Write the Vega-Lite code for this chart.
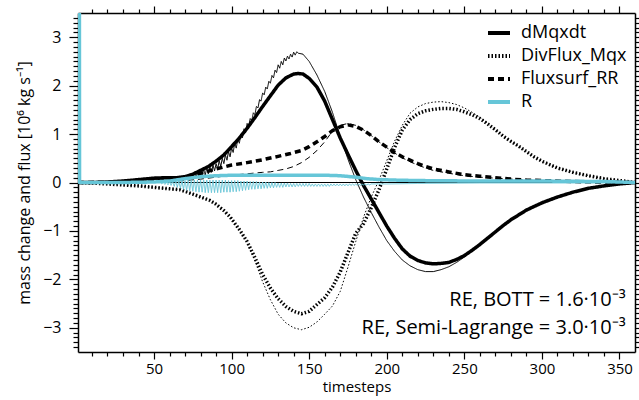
{
"$schema": "https://vega.github.io/schema/vega-lite/v6.json",
"width": 557, "height": 339,
"autosize": {"type": "none"},
"padding": {"left": 78, "top": 13, "right": 4, "bottom": 48},
"config": {
  "font": "Open Sans",
  "view": {"stroke": null},
  "axis": {"grid": false, "domainColor": "black", "domainWidth": 1.5, "tickColor": "black", "tickWidth": 1.2, "labelColor": "black", "labelFont": "Open Sans", "labelFontSize": 16, "titleFont": "Open Sans", "titleFontSize": 16, "titleFontWeight": "normal", "titleColor": "black", "labelOverlap": false}
},
"resolve": {"axis": {"x": "independent", "y": "independent"}},
"layer": [
{
  "data": {"values": [{"t": 1, "v": 0}, {"t": 360, "v": 0}]},
  "mark": {"type": "line", "color": "black", "strokeWidth": 1},
  "encoding": {
    "x": {"field": "t", "type": "quantitative", "scale": {"domain": [1, 360], "nice": false, "zero": false},
      "axis": {"orient": "top", "labels": false, "title": null, "values": [10,20,30,40,50,60,70,80,90,100,110,120,130,140,150,160,170,180,190,200,210,220,230,240,250,260,270,280,290,300,310,320,330,340,350],
        "tickSize": {"condition": {"test": "datum.value % 50 === 0", "value": 7}, "value": 4}}},
    "y": {"field": "v", "type": "quantitative", "scale": {"domain": [-3.5, 3.5], "nice": false, "zero": false},
      "axis": {"orient": "right", "labels": false, "title": null, "values": [-3.4,-3.3,-3.2,-3.1,-3,-2.9,-2.8,-2.7,-2.6,-2.5,-2.4,-2.3,-2.2,-2.1,-2,-1.9,-1.8,-1.7,-1.6,-1.5,-1.4,-1.3,-1.2,-1.1,-1,-0.9,-0.8,-0.7,-0.6,-0.5,-0.4,-0.3,-0.2,-0.1,0,0.1,0.2,0.3,0.4,0.5,0.6,0.7,0.8,0.9,1,1.1,1.2,1.3,1.4,1.5,1.6,1.7,1.8,1.9,2,2.1,2.2,2.3,2.4,2.5,2.6,2.7,2.8,2.9,3,3.1,3.2,3.3,3.4],
        "tickSize": {"condition": {"test": "abs(datum.value - round(datum.value)) < 0.01", "value": 9}, "value": 5}}}
  }
},
{
  "data": {"values": [
{"t":1,"v":0,"s":"dMqxdt","k":"B"},{"t":10,"v":0,"s":"dMqxdt","k":"B"},{"t":20,"v":0.01,"s":"dMqxdt","k":"B"},{"t":30,"v":0.03,"s":"dMqxdt","k":"B"},{"t":40,"v":0.06,"s":"dMqxdt","k":"B"},{"t":50,"v":0.09,"s":"dMqxdt","k":"B"},{"t":58,"v":0.10,"s":"dMqxdt","k":"B"},{"t":65,"v":0.10,"s":"dMqxdt","k":"B"},{"t":70,"v":0.12,"s":"dMqxdt","k":"B"},{"t":75,"v":0.17,"s":"dMqxdt","k":"B"},{"t":80,"v":0.25,"s":"dMqxdt","k":"B"},{"t":85,"v":0.33,"s":"dMqxdt","k":"B"},{"t":90,"v":0.44,"s":"dMqxdt","k":"B"},{"t":95,"v":0.57,"s":"dMqxdt","k":"B"},{"t":100,"v":0.74,"s":"dMqxdt","k":"B"},{"t":105,"v":0.92,"s":"dMqxdt","k":"B"},{"t":110,"v":1.12,"s":"dMqxdt","k":"B"},{"t":115,"v":1.34,"s":"dMqxdt","k":"B"},{"t":120,"v":1.57,"s":"dMqxdt","k":"B"},{"t":125,"v":1.79,"s":"dMqxdt","k":"B"},{"t":130,"v":2.01,"s":"dMqxdt","k":"B"},{"t":135,"v":2.16,"s":"dMqxdt","k":"B"},{"t":140,"v":2.24,"s":"dMqxdt","k":"B"},{"t":143,"v":2.25,"s":"dMqxdt","k":"B"},{"t":146,"v":2.24,"s":"dMqxdt","k":"B"},{"t":150,"v":2.15,"s":"dMqxdt","k":"B"},{"t":155,"v":1.97,"s":"dMqxdt","k":"B"},{"t":160,"v":1.68,"s":"dMqxdt","k":"B"},{"t":165,"v":1.30,"s":"dMqxdt","k":"B"},{"t":170,"v":0.92,"s":"dMqxdt","k":"B"},{"t":175,"v":0.58,"s":"dMqxdt","k":"B"},{"t":180,"v":0.25,"s":"dMqxdt","k":"B"},{"t":185,"v":-0.06,"s":"dMqxdt","k":"B"},{"t":190,"v":-0.34,"s":"dMqxdt","k":"B"},{"t":195,"v":-0.62,"s":"dMqxdt","k":"B"},{"t":200,"v":-0.90,"s":"dMqxdt","k":"B"},{"t":205,"v":-1.15,"s":"dMqxdt","k":"B"},{"t":210,"v":-1.37,"s":"dMqxdt","k":"B"},{"t":215,"v":-1.52,"s":"dMqxdt","k":"B"},{"t":220,"v":-1.61,"s":"dMqxdt","k":"B"},{"t":225,"v":-1.66,"s":"dMqxdt","k":"B"},{"t":230,"v":-1.68,"s":"dMqxdt","k":"B"},{"t":235,"v":-1.67,"s":"dMqxdt","k":"B"},{"t":240,"v":-1.65,"s":"dMqxdt","k":"B"},{"t":245,"v":-1.59,"s":"dMqxdt","k":"B"},{"t":250,"v":-1.51,"s":"dMqxdt","k":"B"},{"t":255,"v":-1.40,"s":"dMqxdt","k":"B"},{"t":260,"v":-1.28,"s":"dMqxdt","k":"B"},{"t":265,"v":-1.15,"s":"dMqxdt","k":"B"},{"t":270,"v":-1.02,"s":"dMqxdt","k":"B"},{"t":275,"v":-0.89,"s":"dMqxdt","k":"B"},{"t":280,"v":-0.77,"s":"dMqxdt","k":"B"},{"t":290,"v":-0.57,"s":"dMqxdt","k":"B"},{"t":300,"v":-0.42,"s":"dMqxdt","k":"B"},{"t":310,"v":-0.30,"s":"dMqxdt","k":"B"},{"t":320,"v":-0.20,"s":"dMqxdt","k":"B"},{"t":330,"v":-0.12,"s":"dMqxdt","k":"B"},{"t":340,"v":-0.07,"s":"dMqxdt","k":"B"},{"t":350,"v":-0.03,"s":"dMqxdt","k":"B"},{"t":360,"v":0,"s":"dMqxdt","k":"B"},

{"t":1,"v":0,"s":"dMqxdt","k":"S"},{"t":20,"v":0.01,"s":"dMqxdt","k":"S"},{"t":40,"v":0.05,"s":"dMqxdt","k":"S"},{"t":55,"v":0.07,"s":"dMqxdt","k":"S"},{"t":65,"v":0.08,"s":"dMqxdt","k":"S"},
{"t":66,"v":0.12,"s":"dMqxdt","k":"S"},{"t":67,"v":0.05,"s":"dMqxdt","k":"S"},{"t":68,"v":0.13,"s":"dMqxdt","k":"S"},{"t":69,"v":0.06,"s":"dMqxdt","k":"S"},{"t":70,"v":0.14,"s":"dMqxdt","k":"S"},{"t":71,"v":0.07,"s":"dMqxdt","k":"S"},{"t":72,"v":0.16,"s":"dMqxdt","k":"S"},{"t":73,"v":0.08,"s":"dMqxdt","k":"S"},{"t":74,"v":0.17,"s":"dMqxdt","k":"S"},{"t":75,"v":0.10,"s":"dMqxdt","k":"S"},
{"t":76,"v":0.22,"s":"dMqxdt","k":"S"},{"t":77,"v":0.09,"s":"dMqxdt","k":"S"},{"t":78,"v":0.23,"s":"dMqxdt","k":"S"},{"t":79,"v":0.10,"s":"dMqxdt","k":"S"},{"t":80,"v":0.25,"s":"dMqxdt","k":"S"},{"t":81,"v":0.12,"s":"dMqxdt","k":"S"},{"t":82,"v":0.28,"s":"dMqxdt","k":"S"},{"t":83,"v":0.15,"s":"dMqxdt","k":"S"},{"t":84,"v":0.31,"s":"dMqxdt","k":"S"},{"t":85,"v":0.18,"s":"dMqxdt","k":"S"},
{"t":86,"v":0.33,"s":"dMqxdt","k":"S"},{"t":87,"v":0.21,"s":"dMqxdt","k":"S"},{"t":88,"v":0.36,"s":"dMqxdt","k":"S"},{"t":89,"v":0.24,"s":"dMqxdt","k":"S"},{"t":90,"v":0.39,"s":"dMqxdt","k":"S"},{"t":91,"v":0.28,"s":"dMqxdt","k":"S"},{"t":92,"v":0.45,"s":"dMqxdt","k":"S"},{"t":93,"v":0.33,"s":"dMqxdt","k":"S"},{"t":94,"v":0.50,"s":"dMqxdt","k":"S"},{"t":95,"v":0.39,"s":"dMqxdt","k":"S"},
{"t":96,"v":0.57,"s":"dMqxdt","k":"S"},{"t":97,"v":0.46,"s":"dMqxdt","k":"S"},{"t":98,"v":0.64,"s":"dMqxdt","k":"S"},{"t":99,"v":0.53,"s":"dMqxdt","k":"S"},{"t":100,"v":0.71,"s":"dMqxdt","k":"S"},{"t":101,"v":0.62,"s":"dMqxdt","k":"S"},{"t":102,"v":0.81,"s":"dMqxdt","k":"S"},{"t":103,"v":0.71,"s":"dMqxdt","k":"S"},{"t":104,"v":0.90,"s":"dMqxdt","k":"S"},{"t":105,"v":0.81,"s":"dMqxdt","k":"S"},
{"t":106,"v":1.00,"s":"dMqxdt","k":"S"},{"t":107,"v":0.92,"s":"dMqxdt","k":"S"},{"t":108,"v":1.11,"s":"dMqxdt","k":"S"},{"t":109,"v":1.03,"s":"dMqxdt","k":"S"},{"t":110,"v":1.22,"s":"dMqxdt","k":"S"},{"t":111,"v":1.16,"s":"dMqxdt","k":"S"},{"t":112,"v":1.32,"s":"dMqxdt","k":"S"},{"t":113,"v":1.28,"s":"dMqxdt","k":"S"},{"t":114,"v":1.44,"s":"dMqxdt","k":"S"},{"t":115,"v":1.40,"s":"dMqxdt","k":"S"},
{"t":116,"v":1.57,"s":"dMqxdt","k":"S"},{"t":117,"v":1.54,"s":"dMqxdt","k":"S"},{"t":118,"v":1.71,"s":"dMqxdt","k":"S"},{"t":119,"v":1.68,"s":"dMqxdt","k":"S"},{"t":120,"v":1.85,"s":"dMqxdt","k":"S"},{"t":121,"v":1.81,"s":"dMqxdt","k":"S"},{"t":122,"v":1.97,"s":"dMqxdt","k":"S"},{"t":123,"v":1.93,"s":"dMqxdt","k":"S"},{"t":124,"v":2.09,"s":"dMqxdt","k":"S"},{"t":125,"v":2.05,"s":"dMqxdt","k":"S"},
{"t":126,"v":2.21,"s":"dMqxdt","k":"S"},{"t":127,"v":2.16,"s":"dMqxdt","k":"S"},{"t":128,"v":2.32,"s":"dMqxdt","k":"S"},{"t":129,"v":2.27,"s":"dMqxdt","k":"S"},{"t":130,"v":2.43,"s":"dMqxdt","k":"S"},{"t":131,"v":2.36,"s":"dMqxdt","k":"S"},{"t":132,"v":2.50,"s":"dMqxdt","k":"S"},{"t":133,"v":2.43,"s":"dMqxdt","k":"S"},{"t":134,"v":2.57,"s":"dMqxdt","k":"S"},{"t":135,"v":2.51,"s":"dMqxdt","k":"S"},
{"t":136,"v":2.61,"s":"dMqxdt","k":"S"},{"t":137,"v":2.55,"s":"dMqxdt","k":"S"},{"t":138,"v":2.65,"s":"dMqxdt","k":"S"},{"t":139,"v":2.59,"s":"dMqxdt","k":"S"},{"t":140,"v":2.69,"s":"dMqxdt","k":"S"},{"t":141,"v":2.63,"s":"dMqxdt","k":"S"},{"t":142,"v":2.70,"s":"dMqxdt","k":"S"},
{"t":143,"v":2.67,"s":"dMqxdt","k":"S"},{"t":146,"v":2.65,"s":"dMqxdt","k":"S"},{"t":150,"v":2.50,"s":"dMqxdt","k":"S"},{"t":155,"v":2.22,"s":"dMqxdt","k":"S"},{"t":160,"v":1.88,"s":"dMqxdt","k":"S"},{"t":165,"v":1.45,"s":"dMqxdt","k":"S"},{"t":170,"v":0.95,"s":"dMqxdt","k":"S"},{"t":175,"v":0.48,"s":"dMqxdt","k":"S"},{"t":180,"v":0.06,"s":"dMqxdt","k":"S"},{"t":185,"v":-0.30,"s":"dMqxdt","k":"S"},{"t":190,"v":-0.62,"s":"dMqxdt","k":"S"},{"t":195,"v":-0.92,"s":"dMqxdt","k":"S"},{"t":200,"v":-1.20,"s":"dMqxdt","k":"S"},{"t":205,"v":-1.42,"s":"dMqxdt","k":"S"},{"t":210,"v":-1.60,"s":"dMqxdt","k":"S"},{"t":215,"v":-1.72,"s":"dMqxdt","k":"S"},{"t":220,"v":-1.80,"s":"dMqxdt","k":"S"},{"t":225,"v":-1.84,"s":"dMqxdt","k":"S"},{"t":230,"v":-1.84,"s":"dMqxdt","k":"S"},{"t":235,"v":-1.80,"s":"dMqxdt","k":"S"},{"t":240,"v":-1.74,"s":"dMqxdt","k":"S"},{"t":245,"v":-1.65,"s":"dMqxdt","k":"S"},{"t":250,"v":-1.54,"s":"dMqxdt","k":"S"},{"t":255,"v":-1.41,"s":"dMqxdt","k":"S"},{"t":260,"v":-1.29,"s":"dMqxdt","k":"S"},{"t":265,"v":-1.15,"s":"dMqxdt","k":"S"},{"t":270,"v":-1.02,"s":"dMqxdt","k":"S"},{"t":275,"v":-0.89,"s":"dMqxdt","k":"S"},{"t":280,"v":-0.77,"s":"dMqxdt","k":"S"},{"t":290,"v":-0.57,"s":"dMqxdt","k":"S"},{"t":300,"v":-0.42,"s":"dMqxdt","k":"S"},{"t":310,"v":-0.30,"s":"dMqxdt","k":"S"},{"t":320,"v":-0.20,"s":"dMqxdt","k":"S"},{"t":330,"v":-0.12,"s":"dMqxdt","k":"S"},{"t":340,"v":-0.07,"s":"dMqxdt","k":"S"},{"t":350,"v":-0.03,"s":"dMqxdt","k":"S"},{"t":360,"v":0,"s":"dMqxdt","k":"S"},

{"t":1,"v":0,"s":"DivFlux_Mqx","k":"B"},{"t":10,"v":-0.01,"s":"DivFlux_Mqx","k":"B"},{"t":20,"v":-0.03,"s":"DivFlux_Mqx","k":"B"},{"t":30,"v":-0.05,"s":"DivFlux_Mqx","k":"B"},{"t":40,"v":-0.07,"s":"DivFlux_Mqx","k":"B"},{"t":50,"v":-0.10,"s":"DivFlux_Mqx","k":"B"},{"t":60,"v":-0.13,"s":"DivFlux_Mqx","k":"B"},{"t":67,"v":-0.15,"s":"DivFlux_Mqx","k":"B"},{"t":75,"v":-0.24,"s":"DivFlux_Mqx","k":"B"},{"t":80,"v":-0.30,"s":"DivFlux_Mqx","k":"B"},{"t":86,"v":-0.37,"s":"DivFlux_Mqx","k":"B"},{"t":90,"v":-0.45,"s":"DivFlux_Mqx","k":"B"},{"t":95,"v":-0.58,"s":"DivFlux_Mqx","k":"B"},{"t":99,"v":-0.71,"s":"DivFlux_Mqx","k":"B"},{"t":105,"v":-0.97,"s":"DivFlux_Mqx","k":"B"},{"t":110,"v":-1.22,"s":"DivFlux_Mqx","k":"B"},{"t":115,"v":-1.55,"s":"DivFlux_Mqx","k":"B"},{"t":120,"v":-1.90,"s":"DivFlux_Mqx","k":"B"},{"t":125,"v":-2.18,"s":"DivFlux_Mqx","k":"B"},{"t":130,"v":-2.40,"s":"DivFlux_Mqx","k":"B"},{"t":135,"v":-2.56,"s":"DivFlux_Mqx","k":"B"},{"t":140,"v":-2.66,"s":"DivFlux_Mqx","k":"B"},{"t":145,"v":-2.71,"s":"DivFlux_Mqx","k":"B"},{"t":150,"v":-2.66,"s":"DivFlux_Mqx","k":"B"},{"t":155,"v":-2.52,"s":"DivFlux_Mqx","k":"B"},{"t":160,"v":-2.38,"s":"DivFlux_Mqx","k":"B"},{"t":165,"v":-2.16,"s":"DivFlux_Mqx","k":"B"},{"t":170,"v":-1.85,"s":"DivFlux_Mqx","k":"B"},{"t":175,"v":-1.45,"s":"DivFlux_Mqx","k":"B"},{"t":180,"v":-1.05,"s":"DivFlux_Mqx","k":"B"},{"t":185,"v":-0.85,"s":"DivFlux_Mqx","k":"B"},{"t":190,"v":-0.52,"s":"DivFlux_Mqx","k":"B"},{"t":195,"v":-0.15,"s":"DivFlux_Mqx","k":"B"},{"t":200,"v":0.28,"s":"DivFlux_Mqx","k":"B"},{"t":205,"v":0.72,"s":"DivFlux_Mqx","k":"B"},{"t":210,"v":1.08,"s":"DivFlux_Mqx","k":"B"},{"t":215,"v":1.30,"s":"DivFlux_Mqx","k":"B"},{"t":220,"v":1.42,"s":"DivFlux_Mqx","k":"B"},{"t":225,"v":1.48,"s":"DivFlux_Mqx","k":"B"},{"t":230,"v":1.51,"s":"DivFlux_Mqx","k":"B"},{"t":235,"v":1.53,"s":"DivFlux_Mqx","k":"B"},{"t":240,"v":1.53,"s":"DivFlux_Mqx","k":"B"},{"t":245,"v":1.51,"s":"DivFlux_Mqx","k":"B"},{"t":250,"v":1.46,"s":"DivFlux_Mqx","k":"B"},{"t":255,"v":1.40,"s":"DivFlux_Mqx","k":"B"},{"t":260,"v":1.32,"s":"DivFlux_Mqx","k":"B"},{"t":265,"v":1.21,"s":"DivFlux_Mqx","k":"B"},{"t":270,"v":1.09,"s":"DivFlux_Mqx","k":"B"},{"t":275,"v":0.96,"s":"DivFlux_Mqx","k":"B"},{"t":280,"v":0.85,"s":"DivFlux_Mqx","k":"B"},{"t":285,"v":0.75,"s":"DivFlux_Mqx","k":"B"},{"t":290,"v":0.64,"s":"DivFlux_Mqx","k":"B"},{"t":295,"v":0.53,"s":"DivFlux_Mqx","k":"B"},{"t":300,"v":0.44,"s":"DivFlux_Mqx","k":"B"},{"t":310,"v":0.30,"s":"DivFlux_Mqx","k":"B"},{"t":320,"v":0.21,"s":"DivFlux_Mqx","k":"B"},{"t":330,"v":0.14,"s":"DivFlux_Mqx","k":"B"},{"t":340,"v":0.08,"s":"DivFlux_Mqx","k":"B"},{"t":350,"v":0.04,"s":"DivFlux_Mqx","k":"B"},{"t":360,"v":0,"s":"DivFlux_Mqx","k":"B"},

{"t":1,"v":0,"s":"DivFlux_Mqx","k":"S"},{"t":10,"v":-0.01,"s":"DivFlux_Mqx","k":"S"},{"t":20,"v":-0.03,"s":"DivFlux_Mqx","k":"S"},{"t":30,"v":-0.05,"s":"DivFlux_Mqx","k":"S"},{"t":40,"v":-0.07,"s":"DivFlux_Mqx","k":"S"},{"t":50,"v":-0.10,"s":"DivFlux_Mqx","k":"S"},{"t":60,"v":-0.13,"s":"DivFlux_Mqx","k":"S"},{"t":67,"v":-0.15,"s":"DivFlux_Mqx","k":"S"},{"t":75,"v":-0.24,"s":"DivFlux_Mqx","k":"S"},{"t":80,"v":-0.30,"s":"DivFlux_Mqx","k":"S"},{"t":86,"v":-0.37,"s":"DivFlux_Mqx","k":"S"},{"t":90,"v":-0.45,"s":"DivFlux_Mqx","k":"S"},{"t":95,"v":-0.58,"s":"DivFlux_Mqx","k":"S"},{"t":99,"v":-0.71,"s":"DivFlux_Mqx","k":"S"},{"t":105,"v":-0.97,"s":"DivFlux_Mqx","k":"S"},{"t":110,"v":-1.24,"s":"DivFlux_Mqx","k":"S"},{"t":115,"v":-1.62,"s":"DivFlux_Mqx","k":"S"},{"t":120,"v":-2.05,"s":"DivFlux_Mqx","k":"S"},{"t":125,"v":-2.42,"s":"DivFlux_Mqx","k":"S"},{"t":130,"v":-2.72,"s":"DivFlux_Mqx","k":"S"},{"t":135,"v":-2.90,"s":"DivFlux_Mqx","k":"S"},{"t":140,"v":-3.00,"s":"DivFlux_Mqx","k":"S"},{"t":145,"v":-3.04,"s":"DivFlux_Mqx","k":"S"},{"t":150,"v":-2.99,"s":"DivFlux_Mqx","k":"S"},{"t":155,"v":-2.88,"s":"DivFlux_Mqx","k":"S"},{"t":160,"v":-2.72,"s":"DivFlux_Mqx","k":"S"},{"t":165,"v":-2.55,"s":"DivFlux_Mqx","k":"S"},{"t":170,"v":-2.25,"s":"DivFlux_Mqx","k":"S"},{"t":175,"v":-1.75,"s":"DivFlux_Mqx","k":"S"},{"t":180,"v":-1.22,"s":"DivFlux_Mqx","k":"S"},{"t":185,"v":-0.72,"s":"DivFlux_Mqx","k":"S"},{"t":190,"v":-0.30,"s":"DivFlux_Mqx","k":"S"},{"t":195,"v":0.05,"s":"DivFlux_Mqx","k":"S"},{"t":200,"v":0.45,"s":"DivFlux_Mqx","k":"S"},{"t":205,"v":0.85,"s":"DivFlux_Mqx","k":"S"},{"t":210,"v":1.18,"s":"DivFlux_Mqx","k":"S"},{"t":215,"v":1.43,"s":"DivFlux_Mqx","k":"S"},{"t":220,"v":1.56,"s":"DivFlux_Mqx","k":"S"},{"t":225,"v":1.63,"s":"DivFlux_Mqx","k":"S"},{"t":230,"v":1.66,"s":"DivFlux_Mqx","k":"S"},{"t":235,"v":1.67,"s":"DivFlux_Mqx","k":"S"},{"t":240,"v":1.65,"s":"DivFlux_Mqx","k":"S"},{"t":245,"v":1.61,"s":"DivFlux_Mqx","k":"S"},{"t":250,"v":1.54,"s":"DivFlux_Mqx","k":"S"},{"t":255,"v":1.45,"s":"DivFlux_Mqx","k":"S"},{"t":260,"v":1.35,"s":"DivFlux_Mqx","k":"S"},{"t":265,"v":1.22,"s":"DivFlux_Mqx","k":"S"},{"t":270,"v":1.09,"s":"DivFlux_Mqx","k":"S"},{"t":275,"v":0.96,"s":"DivFlux_Mqx","k":"S"},{"t":280,"v":0.85,"s":"DivFlux_Mqx","k":"S"},{"t":285,"v":0.75,"s":"DivFlux_Mqx","k":"S"},{"t":290,"v":0.64,"s":"DivFlux_Mqx","k":"S"},{"t":295,"v":0.53,"s":"DivFlux_Mqx","k":"S"},{"t":300,"v":0.44,"s":"DivFlux_Mqx","k":"S"},{"t":310,"v":0.30,"s":"DivFlux_Mqx","k":"S"},{"t":320,"v":0.21,"s":"DivFlux_Mqx","k":"S"},{"t":330,"v":0.14,"s":"DivFlux_Mqx","k":"S"},{"t":340,"v":0.08,"s":"DivFlux_Mqx","k":"S"},{"t":350,"v":0.04,"s":"DivFlux_Mqx","k":"S"},{"t":360,"v":0,"s":"DivFlux_Mqx","k":"S"},

{"t":1,"v":0,"s":"Fluxsurf_RR","k":"B"},{"t":30,"v":0.01,"s":"Fluxsurf_RR","k":"B"},{"t":50,"v":0.03,"s":"Fluxsurf_RR","k":"B"},{"t":60,"v":0.06,"s":"Fluxsurf_RR","k":"B"},{"t":70,"v":0.11,"s":"Fluxsurf_RR","k":"B"},{"t":80,"v":0.19,"s":"Fluxsurf_RR","k":"B"},{"t":90,"v":0.28,"s":"Fluxsurf_RR","k":"B"},{"t":100,"v":0.36,"s":"Fluxsurf_RR","k":"B"},{"t":110,"v":0.41,"s":"Fluxsurf_RR","k":"B"},{"t":120,"v":0.47,"s":"Fluxsurf_RR","k":"B"},{"t":130,"v":0.54,"s":"Fluxsurf_RR","k":"B"},{"t":138,"v":0.60,"s":"Fluxsurf_RR","k":"B"},{"t":145,"v":0.66,"s":"Fluxsurf_RR","k":"B"},{"t":150,"v":0.74,"s":"Fluxsurf_RR","k":"B"},{"t":155,"v":0.84,"s":"Fluxsurf_RR","k":"B"},{"t":160,"v":0.95,"s":"Fluxsurf_RR","k":"B"},{"t":165,"v":1.07,"s":"Fluxsurf_RR","k":"B"},{"t":170,"v":1.15,"s":"Fluxsurf_RR","k":"B"},{"t":175,"v":1.19,"s":"Fluxsurf_RR","k":"B"},{"t":180,"v":1.16,"s":"Fluxsurf_RR","k":"B"},{"t":185,"v":1.08,"s":"Fluxsurf_RR","k":"B"},{"t":190,"v":0.97,"s":"Fluxsurf_RR","k":"B"},{"t":195,"v":0.84,"s":"Fluxsurf_RR","k":"B"},{"t":200,"v":0.73,"s":"Fluxsurf_RR","k":"B"},{"t":205,"v":0.62,"s":"Fluxsurf_RR","k":"B"},{"t":210,"v":0.53,"s":"Fluxsurf_RR","k":"B"},{"t":215,"v":0.46,"s":"Fluxsurf_RR","k":"B"},{"t":220,"v":0.39,"s":"Fluxsurf_RR","k":"B"},{"t":225,"v":0.33,"s":"Fluxsurf_RR","k":"B"},{"t":230,"v":0.28,"s":"Fluxsurf_RR","k":"B"},{"t":240,"v":0.22,"s":"Fluxsurf_RR","k":"B"},{"t":250,"v":0.16,"s":"Fluxsurf_RR","k":"B"},{"t":260,"v":0.13,"s":"Fluxsurf_RR","k":"B"},{"t":270,"v":0.10,"s":"Fluxsurf_RR","k":"B"},{"t":280,"v":0.07,"s":"Fluxsurf_RR","k":"B"},{"t":290,"v":0.05,"s":"Fluxsurf_RR","k":"B"},{"t":300,"v":0.04,"s":"Fluxsurf_RR","k":"B"},{"t":320,"v":0.02,"s":"Fluxsurf_RR","k":"B"},{"t":340,"v":0.01,"s":"Fluxsurf_RR","k":"B"},{"t":360,"v":0,"s":"Fluxsurf_RR","k":"B"},

{"t":1,"v":0,"s":"Fluxsurf_RR","k":"S"},{"t":50,"v":0.01,"s":"Fluxsurf_RR","k":"S"},{"t":70,"v":0.04,"s":"Fluxsurf_RR","k":"S"},{"t":80,"v":0.07,"s":"Fluxsurf_RR","k":"S"},{"t":90,"v":0.11,"s":"Fluxsurf_RR","k":"S"},{"t":100,"v":0.15,"s":"Fluxsurf_RR","k":"S"},{"t":110,"v":0.18,"s":"Fluxsurf_RR","k":"S"},{"t":120,"v":0.21,"s":"Fluxsurf_RR","k":"S"},{"t":125,"v":0.22,"s":"Fluxsurf_RR","k":"S"},{"t":130,"v":0.25,"s":"Fluxsurf_RR","k":"S"},{"t":135,"v":0.28,"s":"Fluxsurf_RR","k":"S"},{"t":140,"v":0.33,"s":"Fluxsurf_RR","k":"S"},{"t":145,"v":0.41,"s":"Fluxsurf_RR","k":"S"},{"t":150,"v":0.52,"s":"Fluxsurf_RR","k":"S"},{"t":155,"v":0.66,"s":"Fluxsurf_RR","k":"S"},{"t":160,"v":0.84,"s":"Fluxsurf_RR","k":"S"},{"t":165,"v":1.06,"s":"Fluxsurf_RR","k":"S"},{"t":170,"v":1.18,"s":"Fluxsurf_RR","k":"S"},{"t":175,"v":1.22,"s":"Fluxsurf_RR","k":"S"},{"t":180,"v":1.18,"s":"Fluxsurf_RR","k":"S"},{"t":185,"v":1.09,"s":"Fluxsurf_RR","k":"S"},{"t":190,"v":0.97,"s":"Fluxsurf_RR","k":"S"},{"t":195,"v":0.84,"s":"Fluxsurf_RR","k":"S"},{"t":200,"v":0.72,"s":"Fluxsurf_RR","k":"S"},{"t":205,"v":0.61,"s":"Fluxsurf_RR","k":"S"},{"t":210,"v":0.51,"s":"Fluxsurf_RR","k":"S"},{"t":215,"v":0.43,"s":"Fluxsurf_RR","k":"S"},{"t":220,"v":0.36,"s":"Fluxsurf_RR","k":"S"},{"t":225,"v":0.30,"s":"Fluxsurf_RR","k":"S"},{"t":230,"v":0.25,"s":"Fluxsurf_RR","k":"S"},{"t":240,"v":0.19,"s":"Fluxsurf_RR","k":"S"},{"t":250,"v":0.14,"s":"Fluxsurf_RR","k":"S"},{"t":260,"v":0.11,"s":"Fluxsurf_RR","k":"S"},{"t":270,"v":0.09,"s":"Fluxsurf_RR","k":"S"},{"t":280,"v":0.07,"s":"Fluxsurf_RR","k":"S"},{"t":290,"v":0.05,"s":"Fluxsurf_RR","k":"S"},{"t":300,"v":0.04,"s":"Fluxsurf_RR","k":"S"},{"t":320,"v":0.02,"s":"Fluxsurf_RR","k":"S"},{"t":340,"v":0.01,"s":"Fluxsurf_RR","k":"S"},{"t":360,"v":0,"s":"Fluxsurf_RR","k":"S"},

{"t":1,"v":40,"s":"R","k":"B"},{"t":2,"v":0,"s":"R","k":"B"},{"t":10,"v":0,"s":"R","k":"B"},{"t":30,"v":0,"s":"R","k":"B"},{"t":50,"v":0.01,"s":"R","k":"B"},{"t":60,"v":0.03,"s":"R","k":"B"},{"t":70,"v":0.08,"s":"R","k":"B"},{"t":80,"v":0.12,"s":"R","k":"B"},{"t":90,"v":0.14,"s":"R","k":"B"},{"t":100,"v":0.15,"s":"R","k":"B"},{"t":120,"v":0.15,"s":"R","k":"B"},{"t":140,"v":0.15,"s":"R","k":"B"},{"t":160,"v":0.15,"s":"R","k":"B"},{"t":170,"v":0.14,"s":"R","k":"B"},{"t":180,"v":0.11,"s":"R","k":"B"},{"t":187,"v":0.08,"s":"R","k":"B"},{"t":195,"v":0.06,"s":"R","k":"B"},{"t":205,"v":0.05,"s":"R","k":"B"},{"t":220,"v":0.04,"s":"R","k":"B"},{"t":260,"v":0.03,"s":"R","k":"B"},{"t":300,"v":0.03,"s":"R","k":"B"},{"t":340,"v":0.02,"s":"R","k":"B"},{"t":360,"v":0,"s":"R","k":"B"},

{"t":1,"v":40,"s":"R","k":"S"},{"t":2,"v":0,"s":"R","k":"S"},{"t":20,"v":0,"s":"R","k":"S"},{"t":40,"v":0,"s":"R","k":"S"},{"t":54,"v":0,"s":"R","k":"S"},
{"t":55,"v":-0.03,"s":"R","k":"S"},{"t":56,"v":0.01,"s":"R","k":"S"},{"t":57,"v":-0.04,"s":"R","k":"S"},{"t":58,"v":0.01,"s":"R","k":"S"},{"t":59,"v":-0.05,"s":"R","k":"S"},{"t":60,"v":0.02,"s":"R","k":"S"},{"t":61,"v":-0.06,"s":"R","k":"S"},{"t":62,"v":0.02,"s":"R","k":"S"},{"t":63,"v":-0.08,"s":"R","k":"S"},{"t":64,"v":0.03,"s":"R","k":"S"},
{"t":65,"v":-0.10,"s":"R","k":"S"},{"t":66,"v":0.03,"s":"R","k":"S"},{"t":67,"v":-0.12,"s":"R","k":"S"},{"t":68,"v":0.04,"s":"R","k":"S"},{"t":69,"v":-0.14,"s":"R","k":"S"},{"t":70,"v":0.04,"s":"R","k":"S"},{"t":71,"v":-0.16,"s":"R","k":"S"},{"t":72,"v":0.05,"s":"R","k":"S"},{"t":73,"v":-0.17,"s":"R","k":"S"},{"t":74,"v":0.05,"s":"R","k":"S"},
{"t":75,"v":-0.18,"s":"R","k":"S"},{"t":76,"v":0.05,"s":"R","k":"S"},{"t":77,"v":-0.19,"s":"R","k":"S"},{"t":78,"v":0.05,"s":"R","k":"S"},{"t":79,"v":-0.20,"s":"R","k":"S"},{"t":80,"v":0.05,"s":"R","k":"S"},{"t":81,"v":-0.20,"s":"R","k":"S"},{"t":82,"v":0.05,"s":"R","k":"S"},{"t":83,"v":-0.21,"s":"R","k":"S"},{"t":84,"v":0.05,"s":"R","k":"S"},
{"t":85,"v":-0.21,"s":"R","k":"S"},{"t":86,"v":0.05,"s":"R","k":"S"},{"t":87,"v":-0.21,"s":"R","k":"S"},{"t":88,"v":0.05,"s":"R","k":"S"},{"t":89,"v":-0.21,"s":"R","k":"S"},{"t":90,"v":0.05,"s":"R","k":"S"},{"t":91,"v":-0.21,"s":"R","k":"S"},{"t":92,"v":0.05,"s":"R","k":"S"},{"t":93,"v":-0.21,"s":"R","k":"S"},{"t":94,"v":0.05,"s":"R","k":"S"},
{"t":95,"v":-0.20,"s":"R","k":"S"},{"t":96,"v":0.05,"s":"R","k":"S"},{"t":97,"v":-0.20,"s":"R","k":"S"},{"t":98,"v":0.04,"s":"R","k":"S"},{"t":99,"v":-0.20,"s":"R","k":"S"},{"t":100,"v":0.04,"s":"R","k":"S"},{"t":101,"v":-0.19,"s":"R","k":"S"},{"t":102,"v":0.04,"s":"R","k":"S"},{"t":103,"v":-0.19,"s":"R","k":"S"},{"t":104,"v":0.04,"s":"R","k":"S"},
{"t":105,"v":-0.18,"s":"R","k":"S"},{"t":106,"v":0.03,"s":"R","k":"S"},{"t":107,"v":-0.17,"s":"R","k":"S"},{"t":108,"v":0.03,"s":"R","k":"S"},{"t":109,"v":-0.16,"s":"R","k":"S"},{"t":110,"v":0.03,"s":"R","k":"S"},{"t":111,"v":-0.15,"s":"R","k":"S"},{"t":112,"v":0.02,"s":"R","k":"S"},{"t":113,"v":-0.14,"s":"R","k":"S"},{"t":114,"v":0.02,"s":"R","k":"S"},
{"t":115,"v":-0.14,"s":"R","k":"S"},{"t":116,"v":0.02,"s":"R","k":"S"},{"t":117,"v":-0.13,"s":"R","k":"S"},{"t":118,"v":0.01,"s":"R","k":"S"},{"t":119,"v":-0.13,"s":"R","k":"S"},{"t":120,"v":0.01,"s":"R","k":"S"},{"t":121,"v":-0.12,"s":"R","k":"S"},{"t":122,"v":0.01,"s":"R","k":"S"},{"t":123,"v":-0.12,"s":"R","k":"S"},{"t":124,"v":0.0,"s":"R","k":"S"},
{"t":125,"v":-0.11,"s":"R","k":"S"},{"t":126,"v":0.0,"s":"R","k":"S"},{"t":127,"v":-0.11,"s":"R","k":"S"},{"t":128,"v":0.0,"s":"R","k":"S"},{"t":129,"v":-0.10,"s":"R","k":"S"},{"t":130,"v":-0.01,"s":"R","k":"S"},{"t":131,"v":-0.10,"s":"R","k":"S"},{"t":132,"v":-0.01,"s":"R","k":"S"},{"t":133,"v":-0.10,"s":"R","k":"S"},{"t":134,"v":-0.01,"s":"R","k":"S"},
{"t":135,"v":-0.09,"s":"R","k":"S"},{"t":136,"v":-0.01,"s":"R","k":"S"},{"t":137,"v":-0.09,"s":"R","k":"S"},{"t":138,"v":-0.02,"s":"R","k":"S"},{"t":139,"v":-0.09,"s":"R","k":"S"},{"t":140,"v":-0.02,"s":"R","k":"S"},{"t":141,"v":-0.09,"s":"R","k":"S"},{"t":142,"v":-0.02,"s":"R","k":"S"},{"t":143,"v":-0.08,"s":"R","k":"S"},{"t":144,"v":-0.02,"s":"R","k":"S"},
{"t":145,"v":-0.08,"s":"R","k":"S"},{"t":146,"v":-0.02,"s":"R","k":"S"},{"t":147,"v":-0.08,"s":"R","k":"S"},{"t":148,"v":-0.02,"s":"R","k":"S"},{"t":149,"v":-0.08,"s":"R","k":"S"},{"t":150,"v":-0.02,"s":"R","k":"S"},{"t":151,"v":-0.08,"s":"R","k":"S"},{"t":152,"v":-0.03,"s":"R","k":"S"},{"t":153,"v":-0.08,"s":"R","k":"S"},{"t":154,"v":-0.03,"s":"R","k":"S"},
{"t":155,"v":-0.08,"s":"R","k":"S"},{"t":156,"v":-0.03,"s":"R","k":"S"},{"t":157,"v":-0.08,"s":"R","k":"S"},{"t":158,"v":-0.03,"s":"R","k":"S"},{"t":159,"v":-0.08,"s":"R","k":"S"},{"t":160,"v":-0.03,"s":"R","k":"S"},{"t":161,"v":-0.08,"s":"R","k":"S"},{"t":162,"v":-0.03,"s":"R","k":"S"},{"t":163,"v":-0.08,"s":"R","k":"S"},{"t":164,"v":-0.03,"s":"R","k":"S"},
{"t":165,"v":-0.07,"s":"R","k":"S"},{"t":166,"v":-0.03,"s":"R","k":"S"},{"t":167,"v":-0.07,"s":"R","k":"S"},{"t":168,"v":-0.03,"s":"R","k":"S"},{"t":169,"v":-0.07,"s":"R","k":"S"},{"t":170,"v":-0.03,"s":"R","k":"S"},{"t":171,"v":-0.07,"s":"R","k":"S"},{"t":172,"v":-0.03,"s":"R","k":"S"},{"t":173,"v":-0.07,"s":"R","k":"S"},{"t":174,"v":-0.03,"s":"R","k":"S"},
{"t":175,"v":-0.07,"s":"R","k":"S"},{"t":176,"v":-0.03,"s":"R","k":"S"},{"t":177,"v":-0.06,"s":"R","k":"S"},{"t":178,"v":-0.03,"s":"R","k":"S"},{"t":179,"v":-0.06,"s":"R","k":"S"},{"t":180,"v":-0.03,"s":"R","k":"S"},{"t":181,"v":-0.06,"s":"R","k":"S"},{"t":182,"v":-0.03,"s":"R","k":"S"},{"t":183,"v":-0.06,"s":"R","k":"S"},{"t":184,"v":-0.03,"s":"R","k":"S"},
{"t":185,"v":-0.05,"s":"R","k":"S"},{"t":186,"v":-0.03,"s":"R","k":"S"},{"t":187,"v":-0.05,"s":"R","k":"S"},{"t":188,"v":-0.03,"s":"R","k":"S"},{"t":189,"v":-0.05,"s":"R","k":"S"},{"t":190,"v":-0.03,"s":"R","k":"S"},
{"t":200,"v":-0.03,"s":"R","k":"S"},{"t":220,"v":-0.02,"s":"R","k":"S"},{"t":260,"v":-0.01,"s":"R","k":"S"},{"t":320,"v":-0.01,"s":"R","k":"S"},{"t":360,"v":0,"s":"R","k":"S"}
  ]},
  "mark": {"type": "line", "clip": true, "strokeCap": "butt", "strokeJoin": "round"},
  "encoding": {
    "x": {"field": "t", "type": "quantitative", "scale": {"domain": [1, 360], "nice": false, "zero": false},
      "axis": {"orient": "bottom", "title": "timesteps", "titlePadding": 3, "titleFontSize": 15, "labelPadding": 2, "labelFontSize": 15, "values": [10,20,30,40,50,60,70,80,90,100,110,120,130,140,150,160,170,180,190,200,210,220,230,240,250,260,270,280,290,300,310,320,330,340,350],
        "tickSize": {"condition": {"test": "datum.value % 50 === 0", "value": 7}, "value": 4},
        "labelExpr": "datum.value % 50 === 0 ? datum.label : ''"}},
    "y": {"field": "v", "type": "quantitative", "scale": {"domain": [-3.5, 3.5], "nice": false, "zero": false},
      "axis": {"orient": "left", "title": "mass change and flux [10⁶ kg s⁻¹]", "titlePadding": 10, "labelPadding": 8, "values": [-3.4,-3.3,-3.2,-3.1,-3,-2.9,-2.8,-2.7,-2.6,-2.5,-2.4,-2.3,-2.2,-2.1,-2,-1.9,-1.8,-1.7,-1.6,-1.5,-1.4,-1.3,-1.2,-1.1,-1,-0.9,-0.8,-0.7,-0.6,-0.5,-0.4,-0.3,-0.2,-0.1,0,0.1,0.2,0.3,0.4,0.5,0.6,0.7,0.8,0.9,1,1.1,1.2,1.3,1.4,1.5,1.6,1.7,1.8,1.9,2,2.1,2.2,2.3,2.4,2.5,2.6,2.7,2.8,2.9,3,3.1,3.2,3.3,3.4],
        "tickSize": {"condition": {"test": "abs(datum.value - round(datum.value)) < 0.01", "value": 9}, "value": 5},
        "labelExpr": "abs(datum.value - round(datum.value)) < 0.01 ? (datum.value < -0.01 ? '−' + abs(round(datum.value)) : '' + round(datum.value)) : ''"}},
    "color": {"field": "s", "type": "nominal",
      "scale": {"domain": ["dMqxdt", "DivFlux_Mqx", "Fluxsurf_RR", "R"], "range": ["black", "black", "black", "#66c6d8"]},
      "legend": {"title": null, "orient": "none", "legendX": 408, "legendY": 7, "symbolType": "stroke", "symbolSize": 484, "symbolStrokeWidth": 4, "labelFontSize": 18, "labelFont": "Open Sans", "labelColor": "black", "rowPadding": 1, "labelOffset": 9, "padding": 0}},
    "strokeDash": {"field": "s", "type": "nominal",
      "scale": {"domain": ["dMqxdt", "DivFlux_Mqx", "Fluxsurf_RR", "R"], "range": [[1, 0], [1.5, 2], [6, 4], [1, 0]]},
      "legend": {"title": null, "orient": "none", "legendX": 408, "legendY": 7, "symbolType": "stroke", "symbolSize": 484, "symbolStrokeWidth": 4, "labelFontSize": 18, "labelFont": "Open Sans", "labelColor": "black", "rowPadding": 1, "labelOffset": 9, "padding": 0}},
    "strokeWidth": {"field": "k", "type": "ordinal", "scale": {"domain": ["B", "S"], "range": [3.5, 1]}, "legend": null}
  }
},
{
  "data": {"values": [
    {"t": 354, "v": -2.43, "label": "RE, BOTT = 1.6·10⁻³"},
    {"t": 354, "v": -3.0, "label": "RE, Semi-Lagrange = 3.0·10⁻³"}
  ]},
  "mark": {"type": "text", "align": "right", "baseline": "middle", "fontSize": 20, "font": "Open Sans", "color": "black"},
  "encoding": {
    "x": {"field": "t", "type": "quantitative", "axis": null},
    "y": {"field": "v", "type": "quantitative", "axis": null},
    "text": {"field": "label"}
  }
}
]
}
